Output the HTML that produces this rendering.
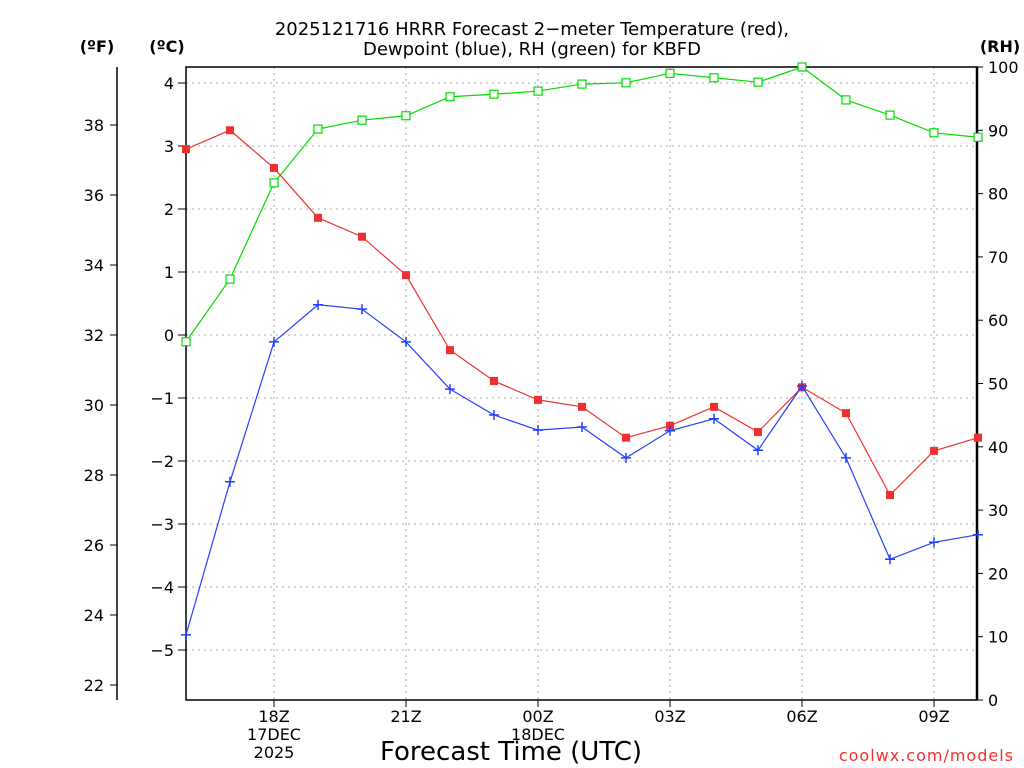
<!DOCTYPE html>
<html><head><meta charset="utf-8"><style>
body{margin:0;background:#fff;}
svg{display:block;font-family:"DejaVu Sans","Liberation Sans",sans-serif;}
</style></head><body>
<svg id="chart" width="1024" height="768"></svg>
<script>
const hours=["16Z","17Z","18Z","19Z","20Z","21Z","22Z","23Z","00Z","01Z","02Z","03Z","04Z","05Z","06Z","07Z","08Z","09Z","10Z"];
const tempC=[2.95,3.25,2.65,1.86,1.56,0.95,-0.24,-0.73,-1.03,-1.14,-1.63,-1.44,-1.14,-1.54,-0.83,-1.24,-2.54,-1.84,-1.63];
const dewC=[-4.76,-2.33,-0.11,0.48,0.41,-0.11,-0.86,-1.27,-1.51,-1.46,-1.95,-1.52,-1.33,-1.83,-0.81,-1.95,-3.56,-3.29,-3.17];
const rh=[56.6,66.5,81.7,90.2,91.6,92.3,95.3,95.7,96.2,97.3,97.5,99.0,98.3,97.6,100,94.8,92.4,89.6,88.9];
const cTicks=[4,3,2,1,0,-1,-2,-3,-4,-5];
const fTicks=[38,36,34,32,30,28,26,24,22];
const rhTicks=[0,10,20,30,40,50,60,70,80,90,100];
const xLabels=["18Z","21Z","00Z","03Z","06Z","09Z"];

const svg=document.getElementById('chart');
const NS="http://www.w3.org/2000/svg";
const L=186,R=977,T=67,B=700;
const x=i=>L+i*44;
const yC=c=>335-c*63;
const yF=f=>yC((f-32)*5/9);
const yR=r=>B-r*(B-T)/100;
function el(tag,attrs,txt){const e=document.createElementNS(NS,tag);for(const k in attrs)e.setAttribute(k,attrs[k]);if(txt!==undefined)e.textContent=txt;svg.appendChild(e);return e;}

// grid
cTicks.forEach(c=>{const g=el('line',{x1:L,x2:R,y1:yC(c),y2:yC(c),stroke:'#aaa','stroke-dasharray':'2,4'});
});
xLabels.forEach(h=>{const i=hours.indexOf(h);const g=el('line',{x1:x(i),x2:x(i),y1:T,y2:B,stroke:'#aaa','stroke-dasharray':'2,4'});
});

// frame
const fr=el('rect',{x:L,y:T,width:R-L,height:B-T,fill:'none',stroke:'#000','stroke-width':1.5});

el('line',{x1:R,x2:R,y1:T,y2:B,stroke:'#000','stroke-width':2.5});

// C axis
cTicks.forEach(c=>{el('line',{x1:L-8,x2:L,y1:yC(c),y2:yC(c),stroke:'#000'});
const t=el('text',{x:L-12,y:yC(c)+6,'text-anchor':'end','font-size':16},(c<0?'\u2212':'')+Math.abs(c));
});
// F axis
el('line',{x1:117,x2:117,y1:T,y2:B,stroke:'#000','stroke-width':1.5});
fTicks.forEach(f=>{el('line',{x1:110,x2:117,y1:yF(f),y2:yF(f),stroke:'#000'});
const t=el('text',{x:104,y:yF(f)+6,'text-anchor':'end','font-size':16},f);
});
// RH axis
rhTicks.forEach(r=>{el('line',{x1:R,x2:R+6,y1:yR(r),y2:yR(r),stroke:'#000'});
const t=el('text',{x:R+11,y:yR(r)+6,'font-size':16},r);
});
// x axis
xLabels.forEach(h=>{const i=hours.indexOf(h);el('line',{x1:x(i),x2:x(i),y1:B,y2:B+7,stroke:'#000'});
const t=el('text',{x:x(i),y:722,'text-anchor':'middle','font-size':16},h);
});
[[274,740,'17DEC'],[274,758,'2025'],[538,740,'18DEC']].forEach(a=>{const t=el('text',{x:a[0],y:a[1],'text-anchor':'middle','font-size':16},a[2]);
});

// series
function series(vals,yf,color,name,marker){
 const pts=vals.map((v,i)=>x(i)+','+yf(v)).join(' ');
 const p=el('polyline',{points:pts,fill:'none',stroke:color,'stroke-width':1.2});
 
 vals.forEach((v,i)=>{const cx=x(i),cy=yf(v);let m;
  if(marker==='fill')m=el('rect',{x:cx-4,y:cy-4,width:8,height:8,fill:color});
  else if(marker==='open')m=el('rect',{x:cx-4,y:cy-4,width:8,height:8,fill:'#fff',stroke:color,'stroke-width':1.2});
  else m=el('path',{d:`M${cx-5},${cy}H${cx+5}M${cx},${cy-5}V${cy+5}`,stroke:color,'stroke-width':1.5});
  });
}
series(rh,yR,'#00dd00','rh','open');
series(tempC,yC,'#f03030','temperature','fill');
series(dewC,yC,'#2040ff','dewpoint','plus');

// titles
[[532,35,'2025121716 HRRR Forecast 2\u2212meter Temperature (red),'],[532,55,'Dewpoint (blue), RH (green) for KBFD']].forEach(a=>{
const t=el('text',{x:a[0],y:a[1],'text-anchor':'middle','font-size':18},a[2]);});
[[97,52,'(ºF)'],[167,52,'(ºC)'],[1000,52,'(RH)']].forEach(a=>{
const t=el('text',{x:a[0],y:a[1],'text-anchor':'middle','font-size':16,'font-weight':'bold'},a[2]);});
let t=el('text',{x:511,y:760,'text-anchor':'middle','font-size':26},'Forecast Time (UTC)');

t=el('text',{x:1014,y:761,'text-anchor':'end','font-size':16,fill:'#f03030','letter-spacing':'1'},'coolwx.com/models');

</script>
</body></html>
